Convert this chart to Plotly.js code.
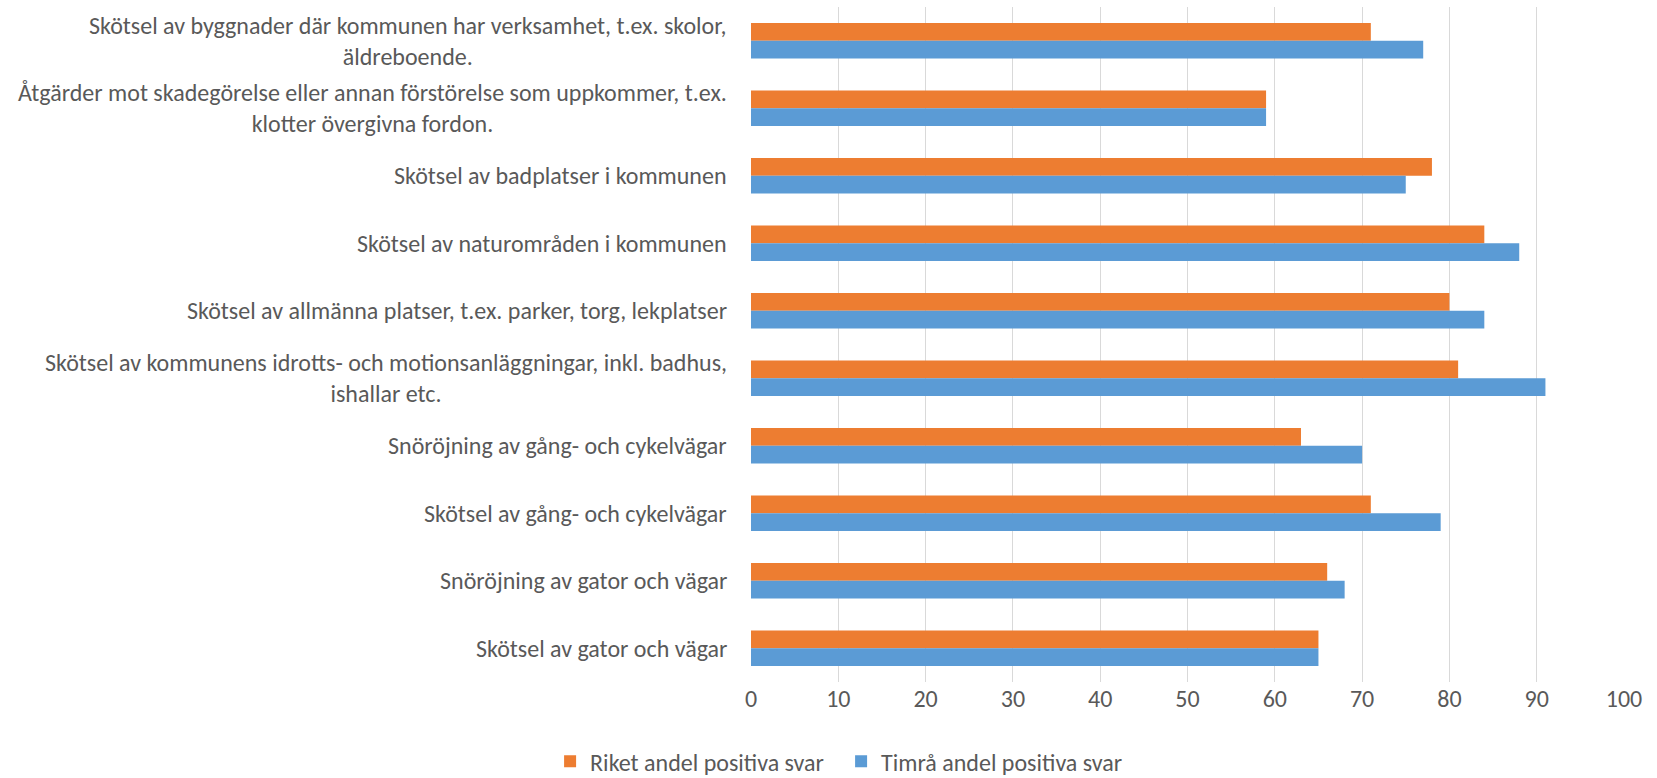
<!DOCTYPE html>
<html>
<head>
<meta charset="utf-8">
<script src="https://cdn.plot.ly/plotly-3.0.1.min.js"></script>
<style>
html,body{margin:0;padding:0;background:#fff;}
#chart{width:1657px;height:778px;}
</style>
</head>
<body>
<div id="chart"></div>
<script>
// Categories, top to bottom as shown
const categories = [
  "Skötsel av byggnader där kommunen har verksamhet, t.ex. skolor,<br>äldreboende.",
  "Åtgärder mot skadegörelse eller annan förstörelse som uppkommer, t.ex.<br>klotter övergivna fordon.",
  "Skötsel av badplatser i kommunen",
  "Skötsel av naturområden i kommunen",
  "Skötsel av allmänna platser, t.ex. parker, torg, lekplatser",
  "Skötsel av kommunens idrotts- och motionsanläggningar, inkl. badhus,<br>ishallar etc.",
  "Snöröjning av gång- och cykelvägar",
  "Skötsel av gång- och cykelvägar",
  "Snöröjning av gator och vägar",
  "Skötsel av gator och vägar"
];
const seriesNames = ["Riket andel positiva svar", "Timrå andel positiva svar"];
const riket = [71, 59, 78, 84, 80, 81, 63, 71, 66, 65];
const timra = [77, 59, 75, 88, 84, 91, 70, 79, 68, 65];
const xTicks = [0, 10, 20, 30, 40, 50, 60, 70, 80, 90, 100];

const FONT = "Calibri, Carlito, 'Open Sans', sans-serif";
const TXT = "#595959";
const FS = 24;

const traces = [
  {type: "bar", orientation: "h", name: seriesNames[0], y: categories, x: riket,
   marker: {color: "#ED7D31"}, hoverinfo: "x+name"},
  {type: "bar", orientation: "h", name: seriesNames[1], y: categories, x: timra,
   marker: {color: "#5B9BD5"}, hoverinfo: "x+name"}
];

const annotations = categories.map(c => ({
  xref: "paper", x: 0, xanchor: "right", xshift: -22,
  yref: "y", y: c, yanchor: "middle",
  text: c, showarrow: false, align: "center",
  font: {family: FONT, size: FS, color: TXT}
}));

const layout = {
  width: 1657, height: 778,
  margin: {l: 751, r: 33, t: 7, b: 96},
  paper_bgcolor: "#fff", plot_bgcolor: "#fff",
  barmode: "group", bargap: 0.474, bargroupgap: 0,
  font: {family: FONT, size: FS, color: TXT},
  showlegend: true,
  legend: {orientation: "h", xref: "container", yref: "container",
           x: 0.5076, xanchor: "center", y: 0.021, yanchor: "middle",
           entrywidth: 246, entrywidthmode: "pixels",
           font: {family: FONT, size: FS, color: TXT}, traceorder: "normal"},
  xaxis: {range: [0, 100], tickvals: xTicks, ticktext: xTicks.map(String),
          showgrid: true, gridcolor: "#D9D9D9", gridwidth: 1,
          zeroline: false, showline: false, ticks: "", ticklabelstandoff: 0,
          tickfont: {family: FONT, size: FS, color: TXT}, fixedrange: true},
  yaxis: {type: "category", autorange: "reversed", showticklabels: false,
          showgrid: false, zeroline: false, showline: false, ticks: "", fixedrange: true},
  annotations: annotations
};

Plotly.newPlot("chart", traces, layout, {displayModeBar: false, staticPlot: false});
</script>
</body>
</html>
